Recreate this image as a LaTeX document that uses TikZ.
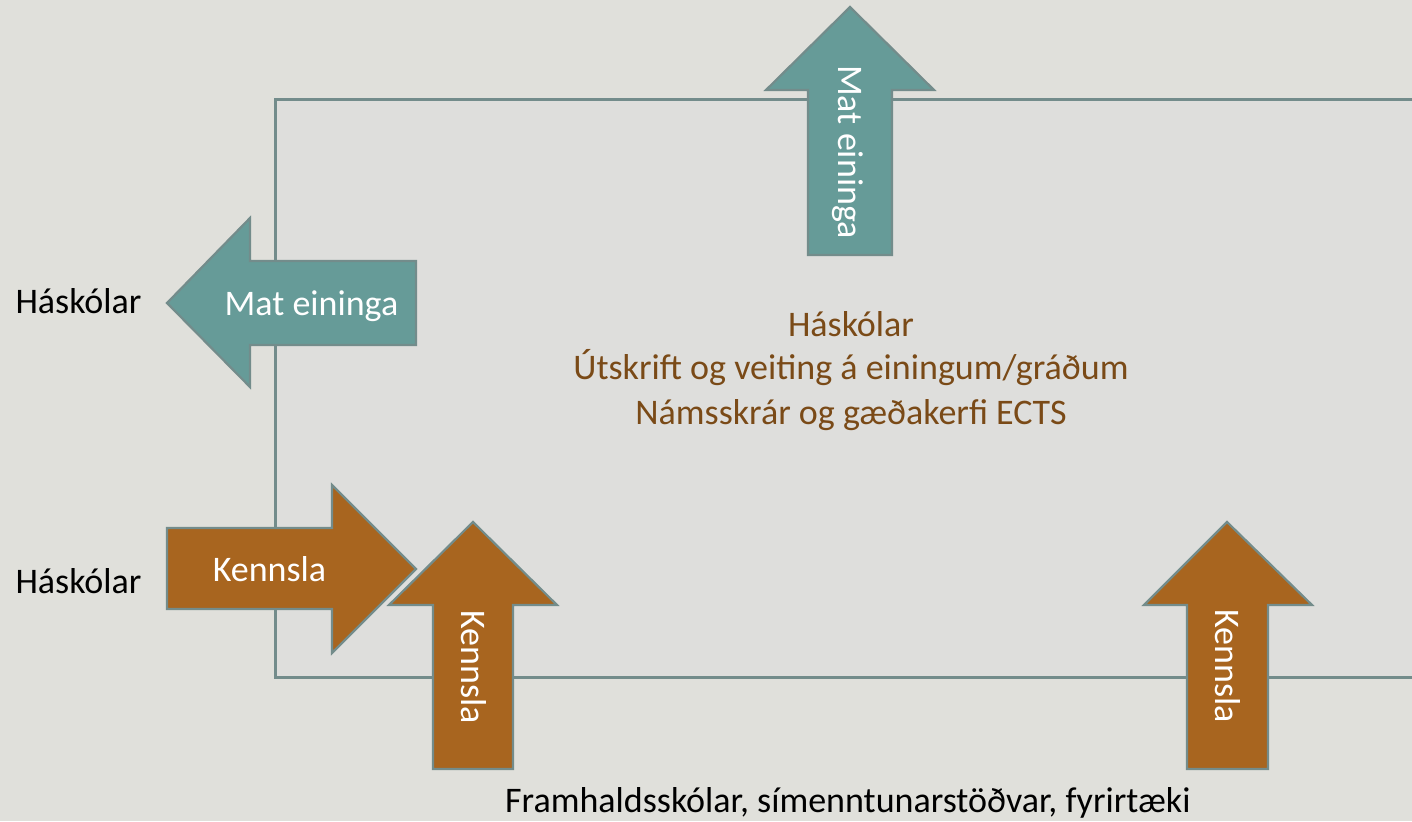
\documentclass[tikz,border=0pt]{standalone}
\usepackage{fontspec}
\setmainfont{Carlito}
\definecolor{bgout}{HTML}{E0E0DB}
\definecolor{bgin}{HTML}{DEDEDC}
\definecolor{edge}{HTML}{738C8B}
\definecolor{teal}{HTML}{669B98}
\definecolor{brownf}{HTML}{A8651F}
\definecolor{browntxt}{HTML}{7A4A17}
\tikzset{
  frame/.style={draw=edge, line width=3pt, fill=bgin},
  tealarrow/.style={draw=edge, line width=2.2pt, fill=teal, line join=miter},
  brownarrow/.style={draw=edge, line width=2.2pt, fill=brownf, line join=miter},
  wtxt/.style={text=white, font=\fontsize{36}{44}\selectfont, inner sep=0pt, anchor=base},
  btxt/.style={text=black, font=\fontsize{36}{44}\selectfont, inner sep=0pt, anchor=base},
  ctxt/.style={text=browntxt, font=\fontsize{36}{44}\selectfont, inner sep=0pt, anchor=base}
}
\begin{document}
\begin{tikzpicture}[x=1pt,y=-1pt]
\fill[bgout] (0,0) rectangle (1412,821);
\useasboundingbox (0,0) rectangle (1412,821);
% frame
\draw[frame] (1420,100) -- (275,100) -- (275,677) -- (1420,677);
% left teal arrow
\draw[tealarrow] (167,303) -- (250,218) -- (250,261) -- (416,261) -- (416,345) -- (250,345) -- (250,387) -- cycle;
\node[wtxt] (mat1) at (311.5,315) {Mat eininga};
% top teal arrow
\draw[tealarrow] (850,7) -- (934,90) -- (892,90) -- (892,255) -- (808,255) -- (808,90) -- (766,90) -- cycle;
\node[wtxt, rotate=-90] (mat2) at (838,152) {Mat eininga};
% right brown arrow
\draw[brownarrow] (416,569) -- (332,653) -- (332,609) -- (167,609) -- (167,528) -- (332,528) -- (332,485) -- cycle;
\node[wtxt] (k1) at (269.5,581) {Kennsla};
% up brown arrow 1
\draw[brownarrow] (473,522) -- (557,605) -- (513,605) -- (513,769) -- (433,769) -- (433,605) -- (389,605) -- cycle;
\node[wtxt, rotate=-90] (k2) at (461,667) {Kennsla};
% up brown arrow 2
\draw[brownarrow] (1227,522) -- (1312,605) -- (1268,605) -- (1268,769) -- (1187,769) -- (1187,605) -- (1144,605) -- cycle;
\node[wtxt, rotate=-90] (k3) at (1215,666) {Kennsla};
% labels
\node[btxt] (h1) at (78.5,313) {Háskólar};
\node[btxt] (h2) at (78.5,593) {Háskólar};
\node[ctxt] (c1) at (851,336) {Háskólar};
\node[ctxt] (c2) at (851,379) {Útskrift og veiting á einingum/gráðum};
\node[ctxt] (c3) at (851,424) {Námsskrár og gæðakerfi ECTS};
\node[btxt, anchor=base west] (bottom) at (505,812) {Framhaldsskólar, símenntunarstöðvar, fyrirtæki};
\end{tikzpicture}
\end{document}
